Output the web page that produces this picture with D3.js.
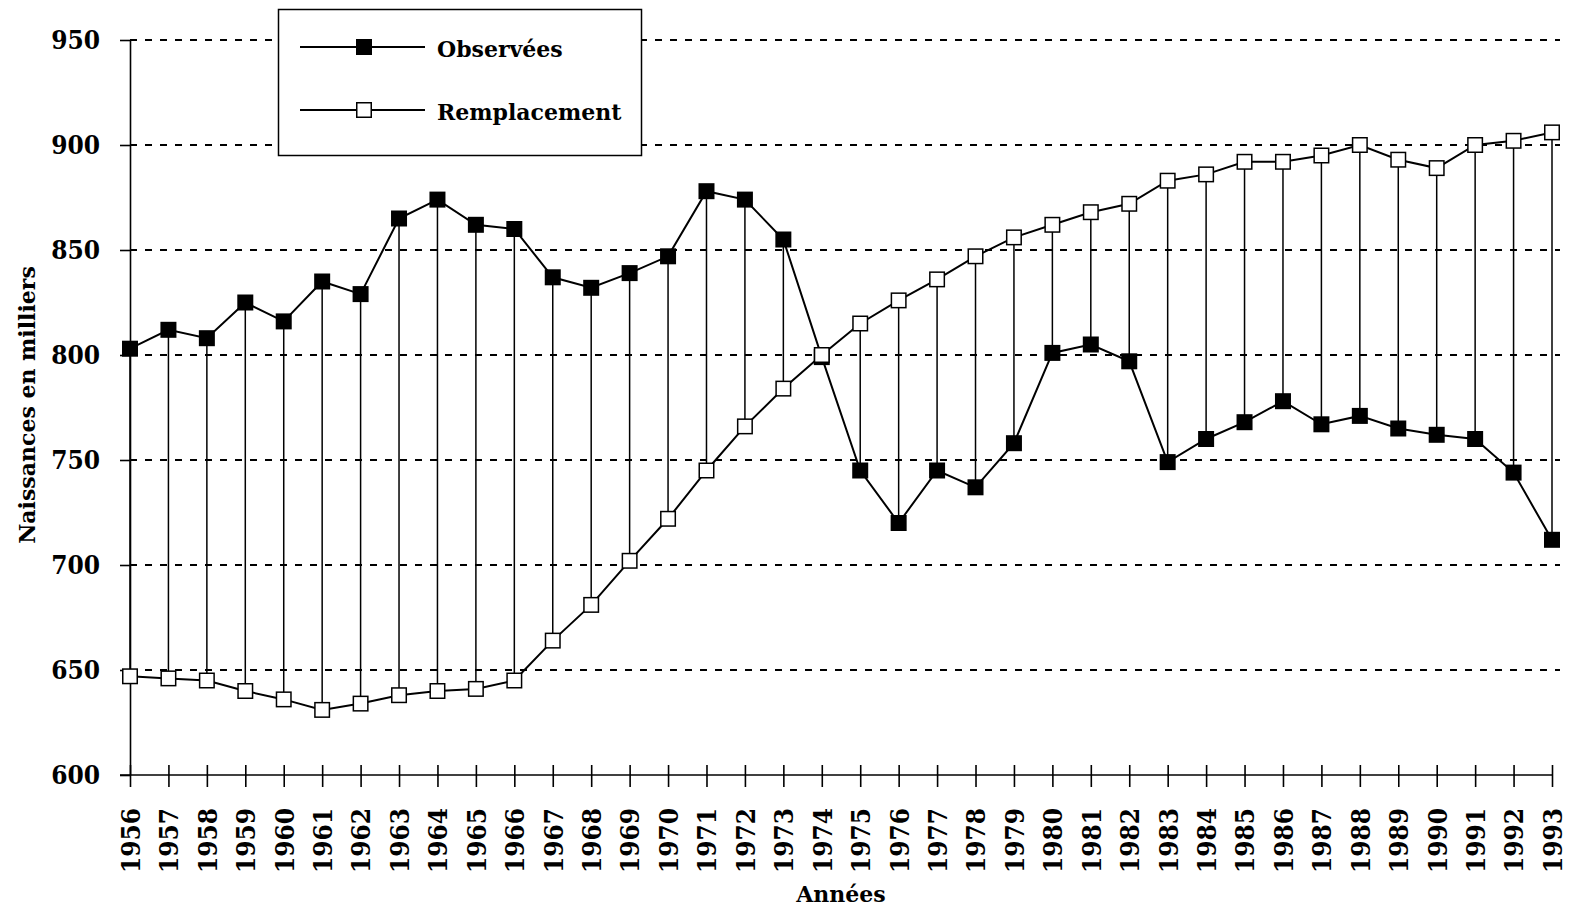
<!DOCTYPE html>
<html>
<head>
<meta charset="utf-8">
<script src="https://cdn.jsdelivr.net/npm/d3@7"></script>
<style>
  body { margin: 0; background: #fff; }
  svg text { font-family: "DejaVu Serif", serif; font-weight: bold; fill: #000; }
  .num { font-stretch: condensed; }
</style>
</head>
<body>
<svg id="chart" width="1571" height="910"></svg>
<script>
const years = d3.range(1956, 1994);
const observees = [803, 812, 808, 825, 816, 835, 829, 865, 874, 862, 860, 837, 832, 839, 847, 878, 874, 855,
  799, 745, 720, 745, 737, 758, 801, 805, 797, 749, 760, 768, 778, 767, 771, 765, 762, 760, 744, 712];
const remplacement = [647, 646, 645, 640, 636, 631, 634, 638, 640, 641, 645, 664, 681, 702, 722, 745, 766, 784,
  800, 815, 826, 836, 847, 856, 862, 868, 872, 883, 886, 892, 892, 895, 900, 893, 889, 900, 902, 906];
const yTicks = [600, 650, 700, 750, 800, 850, 900, 950];
const seriesNames = ['Observées', 'Remplacement'];

const MARK = 16;

const svg = d3.select('#chart');
const x = d3.scaleLinear().domain([1956, 1993]).range([130, 1552]);
const y = d3.scaleLinear().domain([600, 950]).range([775, 40]);

const rows = years.map((yr, i) => ({ yr, obs: observees[i], rep: remplacement[i] }));

// dashed grid
svg.append('g').selectAll('line')
  .data(yTicks.slice(1))
  .join('line')
  .attr('x1', 130).attr('x2', 1560)
  .attr('y1', d => y(d)).attr('y2', d => y(d))
  .attr('stroke', '#000').attr('stroke-width', 2)
  .attr('stroke-dasharray', '7,8');

// y axis
let yAxis = svg.append('g')
  .attr('transform', 'translate(130,0)')
  .call(d3.axisLeft(y).tickValues(yTicks).tickSize(10).tickPadding(20).tickSizeOuter(0));
yAxis.select('.domain').attr('stroke-width', 1.6);
yAxis.selectAll('.tick line').attr('stroke-width', 1.6);
yAxis.selectAll('text').attr('class', 'num').style('font-size', '26px');

// x axis
let xAxis = svg.append('g')
  .attr('transform', 'translate(0,775)')
  .call(d3.axisBottom(x).tickValues(years).tickFormat(d3.format('d')).tickSize(12).tickSizeOuter(0));
xAxis.select('.domain').attr('d', 'M120,0H1552').attr('stroke-width', 1.6);
xAxis.selectAll('.tick line').attr('y1', -10).attr('stroke-width', 1.6);
xAxis.selectAll('text')
  .attr('class', 'num')
  .style('font-size', '26px')
  .attr('text-anchor', 'end')
  .attr('transform', 'rotate(-90)')
  .attr('x', -33).attr('y', 0).attr('dy', '0.36em');

// drop lines between the two series
svg.append('g').selectAll('line')
  .data(rows)
  .join('line')
  .attr('x1', d => x(d.yr)).attr('x2', d => x(d.yr))
  .attr('y1', d => y(d.obs)).attr('y2', d => y(d.rep))
  .attr('stroke', '#000').attr('stroke-width', 1.5);

const lineObs = d3.line().x(d => x(d.yr)).y(d => y(d.obs));
const lineRep = d3.line().x(d => x(d.yr)).y(d => y(d.rep));
svg.append('path').datum(rows).attr('d', lineObs)
  .attr('fill', 'none').attr('stroke', '#000').attr('stroke-width', 2);
svg.append('path').datum(rows).attr('d', lineRep)
  .attr('fill', 'none').attr('stroke', '#000').attr('stroke-width', 2);

svg.append('g').selectAll('rect')
  .data(rows)
  .join('rect')
  .attr('x', d => x(d.yr) - MARK / 2).attr('y', d => y(d.obs) - MARK / 2)
  .attr('width', MARK).attr('height', MARK)
  .attr('fill', '#000');
svg.append('g').selectAll('rect')
  .data(rows)
  .join('rect')
  .attr('x', d => x(d.yr) - MARK / 2 + 0.75).attr('y', d => y(d.rep) - MARK / 2 + 0.75)
  .attr('width', MARK - 1.5).attr('height', MARK - 1.5)
  .attr('fill', '#fff').attr('stroke', '#000').attr('stroke-width', 1.5);

// legend
let legend = svg.append('g');
legend.append('rect')
  .attr('x', 278.5).attr('y', 9.5).attr('width', 363).attr('height', 146)
  .attr('fill', '#fff').attr('stroke', '#000').attr('stroke-width', 1.5);
seriesNames.forEach((name, i) => {
  let ly = 47 + i * 63;
  legend.append('line')
    .attr('x1', 300).attr('x2', 425).attr('y1', ly).attr('y2', ly)
    .attr('stroke', '#000').attr('stroke-width', 2);
  legend.append('rect')
    .attr('x', 364 - MARK / 2 + 0.75).attr('y', ly - MARK / 2 + 0.75)
    .attr('width', MARK - 1.5).attr('height', MARK - 1.5)
    .attr('fill', i === 0 ? '#000' : '#fff')
    .attr('stroke', '#000').attr('stroke-width', 1.5);
  legend.append('text')
    .attr('x', 437).attr('y', ly + 10)
    .style('font-size', '22px')
    .text(name);
});

// axis titles
svg.append('text')
  .attr('transform', 'translate(35,405) rotate(-90)')
  .attr('text-anchor', 'middle')
  .style('font-size', '22px')
  .text('Naissances en milliers');
svg.append('text')
  .attr('x', 841).attr('y', 902)
  .attr('text-anchor', 'middle')
  .style('font-size', '22px')
  .text('Années');
</script>
</body>
</html>
